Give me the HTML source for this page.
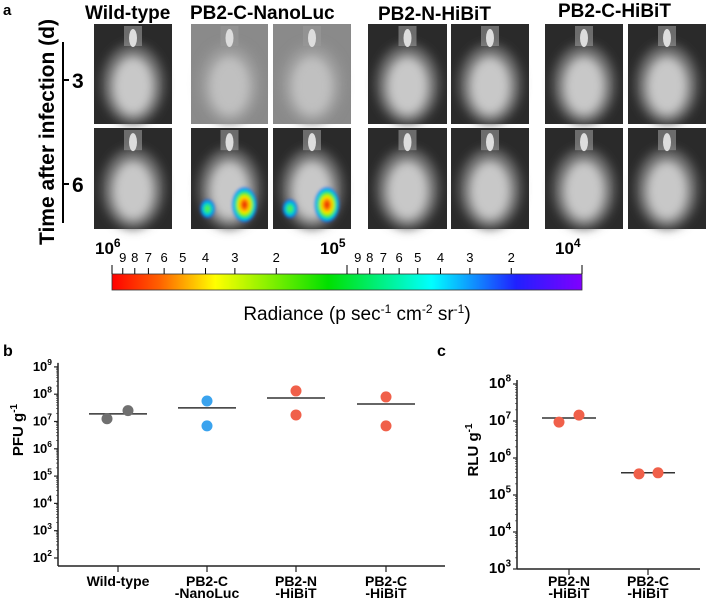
<!DOCTYPE html>
<html><head><meta charset="utf-8">
<style>
body{margin:0;background:#fff;}
svg{display:block;font-family:"Liberation Sans",Arial,sans-serif;}
.b{font-weight:bold;}
</style></head>
<body>
<svg id="fig" width="707" height="603" viewBox="0 0 707 603">
<defs>
<filter id="blur" x="-20%" y="-20%" width="140%" height="140%"><feGaussianBlur stdDeviation="5"/></filter>
<filter id="blur2" x="-50%" y="-50%" width="200%" height="200%"><feGaussianBlur stdDeviation="1.5"/></filter>
<linearGradient id="cbar" x1="0" x2="1" y1="0" y2="0">
<stop offset="0" stop-color="#ff0000"/><stop offset="0.1" stop-color="#ff6000"/>
<stop offset="0.22" stop-color="#ffff00"/><stop offset="0.46" stop-color="#00e000"/>
<stop offset="0.68" stop-color="#00ffff"/><stop offset="0.86" stop-color="#2020ff"/>
<stop offset="1" stop-color="#8000ff"/></linearGradient>
<radialGradient id="blob" cx="0.5" cy="0.5" r="0.5">
<stop offset="0" stop-color="#e00000"/><stop offset="0.3" stop-color="#ff8000"/><stop offset="0.5" stop-color="#ffff00"/>
<stop offset="0.7" stop-color="#00e000"/><stop offset="0.85" stop-color="#00e0ff"/><stop offset="1" stop-color="#1010ff"/></radialGradient>
<radialGradient id="blob2" cx="0.5" cy="0.5" r="0.5">
<stop offset="0" stop-color="#80ff00"/><stop offset="0.5" stop-color="#00e0a0"/><stop offset="0.8" stop-color="#00b0ff"/><stop offset="1" stop-color="#1010ff"/></radialGradient>
</defs>

<g id="panel-a">
<text x="3" y="15" font-size="15" class="b">a</text>
<text x="85" y="19" font-size="19" class="b">Wild-type</text>
<text x="190" y="19" font-size="19" class="b">PB2-C-NanoLuc</text>
<text x="378" y="20" font-size="19" class="b">PB2-N-HiBiT</text>
<text x="558" y="17" font-size="19" class="b">PB2-C-HiBiT</text>
<text transform="translate(54,132) rotate(-90)" text-anchor="middle" font-size="21" class="b">Time after infection (d)</text>
<line x1="63" y1="42" x2="63" y2="223" stroke="#000" stroke-width="2"/>
<line x1="63" y1="80" x2="69" y2="80" stroke="#000" stroke-width="2"/>
<line x1="63" y1="184" x2="69" y2="184" stroke="#000" stroke-width="2"/>
<text x="72" y="88" font-size="21" class="b">3</text>
<text x="72" y="192" font-size="21" class="b">6</text>
<g id="tiles"></g>

<g>
<rect x="112" y="274" width="470" height="16" fill="url(#cbar)" stroke="#333" stroke-width="0.8"/>
<g id="cticks"></g>
<text x="95" y="254" font-size="17" class="b">10<tspan dy="-7" font-size="12">6</tspan></text>
<text x="320" y="254" font-size="17" class="b">10<tspan dy="-7" font-size="12">5</tspan></text>
<text x="555" y="254" font-size="17" class="b">10<tspan dy="-7" font-size="12">4</tspan></text>
<text x="357" y="320" font-size="19" text-anchor="middle">Radiance (p sec<tspan dy="-7" font-size="12">-1</tspan><tspan dy="7"> cm</tspan><tspan dy="-7" font-size="12">-2</tspan><tspan dy="7"> sr</tspan><tspan dy="-7" font-size="12">-1</tspan><tspan dy="7">)</tspan></text>
</g>
</g>

<g id="panel-b">
<text x="3" y="356" font-size="16" class="b">b</text>
<text transform="translate(23,430) rotate(-90)" text-anchor="middle" font-size="15" class="b">PFU g<tspan dy="-6" font-size="10">-1</tspan></text>
</g>
<g id="panel-c">
<text x="437" y="356" font-size="16" class="b">c</text>
<text transform="translate(478,450) rotate(-90)" text-anchor="middle" font-size="15" class="b">RLU g<tspan dy="-6" font-size="10">-1</tspan></text>
</g>
</svg>
<script>
// Panel b data
const bCategories = ["Wild-type", "PB2-C|-NanoLuc", "PB2-N|-HiBiT", "PB2-C|-HiBiT"];
const bRep1 = [7.1, 7.75, 8.12, 7.9];      // log10 PFU/g
const bRep2 = [7.4, 6.84, 7.24, 6.84];
const bMean = [7.28, 7.5, 7.86, 7.64];
const bColors = ["#707070", "#3aa3ee", "#f0604a", "#f0604a"];
const bTicks = [2,3,4,5,6,7,8,9];
// Panel c data
const cCategories = ["PB2-N|-HiBiT", "PB2-C|-HiBiT"];
const cRep1 = [6.97, 5.57];   // log10 RLU/g
const cRep2 = [7.16, 5.6];
const cMean = [7.08, 5.6];
const cTicks = [3,4,5,6,7,8];
// colorbar
const cbarMinor = [9,8,7,6,5,4,3,2];

const NS="http://www.w3.org/2000/svg";
function mk(tag, attrs, parent){const e=document.createElementNS(NS,tag);for(const k in attrs)e.setAttribute(k,attrs[k]);parent.appendChild(e);return e;}

// tiles
const tiles=document.getElementById('tiles');
const cols=[[94,172],[191,268],[273,351],[368,447],[451,529],[545,623],[628,706]];
const rows=[[24,124],[128,229]];
cols.forEach((c,ci)=>rows.forEach((r,ri)=>{
  const g=mk('g',{},tiles);
  
  
  const w=c[1]-c[0],h=r[1]-r[0];
  const nanoGray=(ci==1||ci==2)&&ri==0;
  mk('rect',{x:c[0],y:r[0],width:w,height:h,fill:nanoGray?'#8a8a8a':'#2a2a2a'},g);
  const cx=c[0]+w/2;
  mk('ellipse',{cx:cx,cy:r[0]+h*0.6,rx:w*0.4,ry:h*0.4,fill:nanoGray?'#9a9a9a':'#6a6a6a',filter:'url(#blur)'},g);
  mk('ellipse',{cx:cx,cy:r[0]+h*0.62,rx:w*0.27,ry:h*0.3,fill:nanoGray?'#c0c0c0':'#c8c8c8',filter:'url(#blur)'},g);
  mk('rect',{x:cx-9,y:r[0]+2,width:18,height:h*0.2,fill:'#999',opacity:0.6},g);
  mk('ellipse',{cx:cx,cy:r[0]+h*0.14,rx:4,ry:9,fill:'#ddd'},g);
  if((ci==1||ci==2)&&ri==1){
    mk('ellipse',{cx:cx+15,cy:r[0]+h*0.76,rx:12,ry:17,fill:'url(#blob)',filter:'url(#blur2)'},g);
    mk('ellipse',{cx:cx-22,cy:r[0]+h*0.8,rx:7,ry:9,fill:'url(#blob2)',filter:'url(#blur2)'},g);
  }
}));

// colorbar ticks
const ct=document.getElementById('cticks');
function cbx(v){return 112+470*(6-Math.log10(v))/2;}
[1e6,1e5,1e4].forEach(v=>{const x=cbx(v);mk('line',{x1:x,y1:265,x2:x,y2:274,stroke:'#000','stroke-width':1},ct);});
[5,4].forEach(ex=>cbarMinor.forEach(m=>{
  const v=m*Math.pow(10,ex);const x=cbx(v);
  mk('line',{x1:x,y1:268,x2:x,y2:274,stroke:'#000','stroke-width':1},ct);
  const t=mk('text',{x:x,y:262,'font-size':13,'text-anchor':'middle'},ct);t.textContent=m;
}));

function chart(parent,o){
  const p=document.getElementById(parent);
  const y=v=>o.y0-(v-o.vmin)*o.dec;
  const x=i=>o.xs[i];
  mk('line',{x1:o.ax,y1:y(o.ticks[o.ticks.length-1])-4,x2:o.ax,y2:o.axY,stroke:'#222','stroke-width':1.5},p);
  mk('line',{x1:o.ax,y1:o.axY,x2:o.axEnd,y2:o.axY,stroke:'#222','stroke-width':1.5},p);
  o.ticks.forEach(t=>{
    const yy=y(t);
    mk('line',{x1:o.ax-4,y1:yy,x2:o.ax,y2:yy,stroke:'#222','stroke-width':1.2},p);
    if(t<o.ticks[o.ticks.length-1]) for(let m=2;m<10;m++){const ym=y(t+Math.log10(m));mk('line',{x1:o.ax-2,y1:ym,x2:o.ax,y2:ym,stroke:'#222','stroke-width':0.6},p);}
    const tx=mk('text',{x:o.ax-6,y:yy+4,'font-size':o.fs,'text-anchor':'end','font-weight':'bold'},p);
    tx.innerHTML='10<tspan dy="-'+(o.fs*0.45)+'" font-size="'+(o.fs*0.65)+'">'+t+'</tspan>';
  });
  o.cats.forEach((c,i)=>{
    mk('line',{x1:x(i),y1:o.axY,x2:x(i),y2:o.axY+6,stroke:'#222','stroke-width':1.2},p);
    const parts=c.split('|');
    parts.forEach((s,j)=>{const t=mk('text',{x:x(i),y:o.axY+o.lab0+j*12,'font-size':o.lfs,'text-anchor':'middle','font-weight':'bold'},p);t.textContent=s;
      
      });
    const ml=mk('line',{x1:x(i)-o.hw,y1:y(o.mean[i]),x2:x(i)+o.hw,y2:y(o.mean[i]),stroke:'#333','stroke-width':1.5},p);
    
    
    const d1=mk('circle',{cx:x(i)+o.off1[i],cy:y(o.r1[i]),r:5.5,fill:o.colors[i]},p);
    
    
    const d2=mk('circle',{cx:x(i)+o.off2[i],cy:y(o.r2[i]),r:5.5,fill:o.colors[i]},p);
    
    
  });
}
chart('panel-b',{cats:bCategories,r1:bRep1,r2:bRep2,mean:bMean,colors:bColors,ticks:bTicks,
  vmin:2,y0:558,dec:27.3,ax:58,axY:566,axEnd:445,xs:[118,207,296,386],hw:29,fs:13,lfs:14,lab0:20,
  off1:[-11,0,0,0],off2:[10,0,0,0]});
chart('panel-c',{cats:cCategories,r1:cRep1,r2:cRep2,mean:cMean,colors:["#f0604a","#f0604a"],ticks:cTicks,
  vmin:3,y0:569,dec:37,ax:517,axY:569,axEnd:700,xs:[569,648],hw:27,fs:15,lfs:14,lab0:17,
  off1:[-10,-9],off2:[10,10]});
</script>
</body></html>
